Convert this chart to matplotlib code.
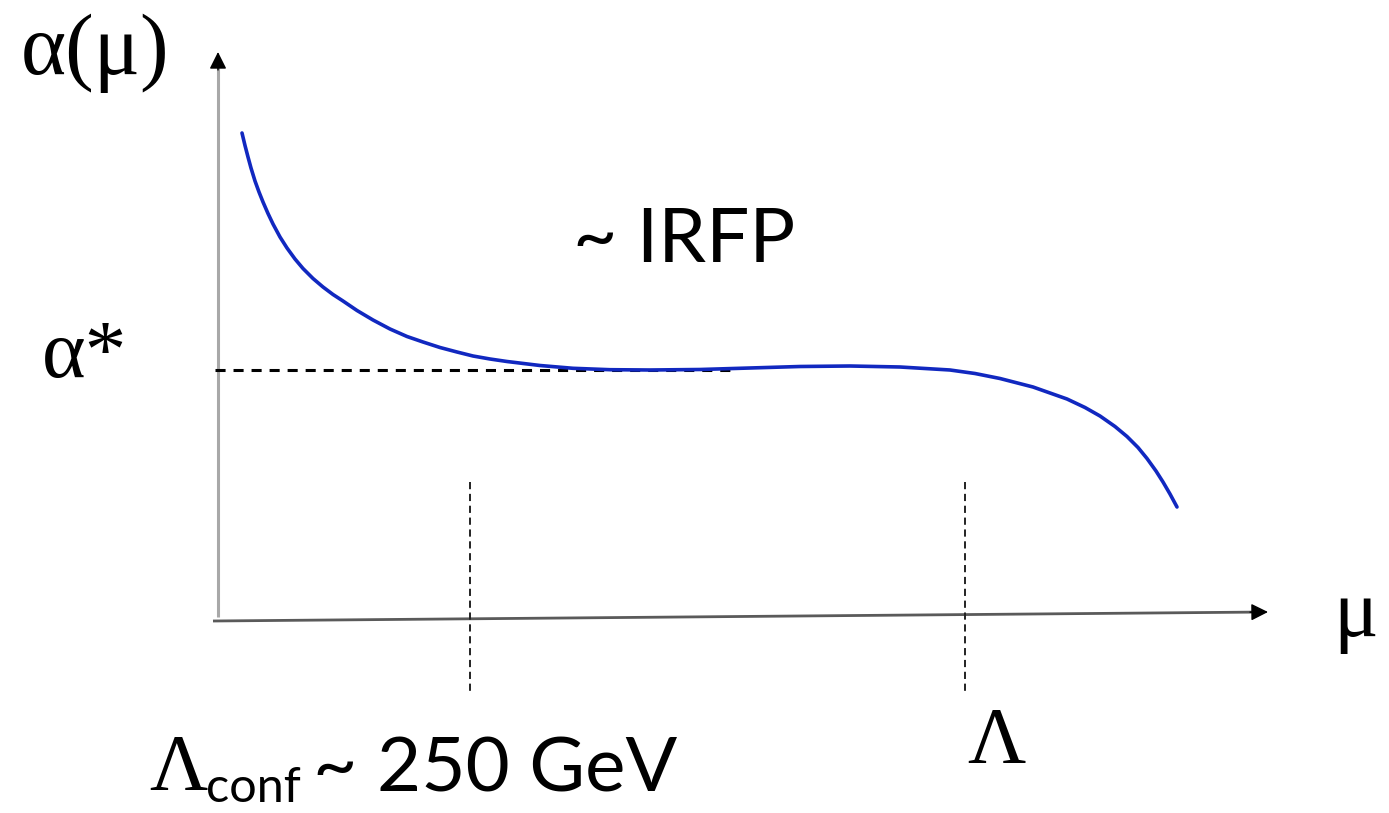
import matplotlib.pyplot as plt

# Curve (pixel-like coordinates, y grows downward)
curve_x = [242, 245, 248, 251, 255, 259, 263, 268, 273, 280, 287, 295, 303, 313,
           323, 333, 343, 357, 373, 390, 407, 423, 440, 457, 473, 490, 507, 540,
           573, 610, 650, 700, 750, 800, 850, 900, 950, 975, 1000, 1033, 1067,
           1085, 1100, 1115, 1127, 1138, 1147, 1156, 1163, 1170, 1177]
curve_y = [133, 145.5, 157, 168, 181, 192, 202, 213.5, 224, 237, 248, 259, 268.5,
           278.5, 287, 294.5, 301, 310.5, 320, 329, 336.5, 342, 347.5, 352,
           356, 359, 361.5, 365.5, 368.3, 369.7, 370, 369.5, 368, 366.5, 366, 367,
           370, 373.5, 378.5, 387, 399, 407.5, 416, 426.5, 436.5, 447.5, 458.5,
           471, 482, 494, 507]

alpha_star_y = 370
alpha_star_x = [215, 735]
marks_x = [470, 965]
marks_y = [482, 695]

serif = ['Liberation Serif', 'DejaVu Serif']
sans = ['Lato', 'DejaVu Sans']

fig = plt.figure(figsize=(13.89, 8.13), dpi=100)
ax = fig.add_axes([0, 0, 1, 1])
ax.set_xlim(0, 1389)
ax.set_ylim(813, 0)
ax.axis('off')

# axes: grey lines with black arrow heads
ax.plot([218, 218], [617, 66], color='#a8a8a8', lw=2.2, solid_capstyle='butt')
ax.plot([213, 1255], [621, 612.1], color='#5a5a5a', lw=2.0, solid_capstyle='butt')
ax.annotate('', xy=(218, 52), xytext=(218, 70),
            arrowprops=dict(arrowstyle='-|>', color='black', lw=1,
                            mutation_scale=26, shrinkA=0, shrinkB=0))
ax.annotate('', xy=(1268, 612), xytext=(1250, 612.15),
            arrowprops=dict(arrowstyle='-|>', color='black', lw=1,
                            mutation_scale=26, shrinkA=0, shrinkB=0))

# fixed point line and scale marks
ax.plot(alpha_star_x, [alpha_star_y, alpha_star_y], color='black', lw=2.2,
        dashes=(3.3, 2.6))
for mx in marks_x:
    ax.plot([mx, mx], marks_y, color='#222222', lw=1.4, dashes=(3.7, 2.4))

ax.plot(curve_x, curve_y, color='#1128c0', lw=2.6, solid_capstyle='round',
        solid_joinstyle='round')

# labels
ax.text(21, 74, 'α(μ)', family=serif, fontsize=62, va='baseline', ha='left')
ax.text(42, 377, 'α*', family=serif, fontsize=60, va='baseline', ha='left')
ax.text(1333, 636, 'μ', family=serif, fontsize=60, va='baseline', ha='left')
ax.text(967, 763, 'Λ', family=serif, fontsize=58, va='baseline', ha='left')
ax.text(149, 790, 'Λ', family=serif, fontsize=58, va='baseline', ha='left')
ax.text(206, 802, 'conf', family=sans, fontsize=35, va='baseline', ha='left')
ax.text(313, 791, '~ 250 GeV', family=sans, fontsize=55, va='baseline', ha='left')
ax.text(573, 262, '~ IRFP', family=sans, fontsize=55, va='baseline', ha='left')

fig.savefig('out.png', dpi=100)
